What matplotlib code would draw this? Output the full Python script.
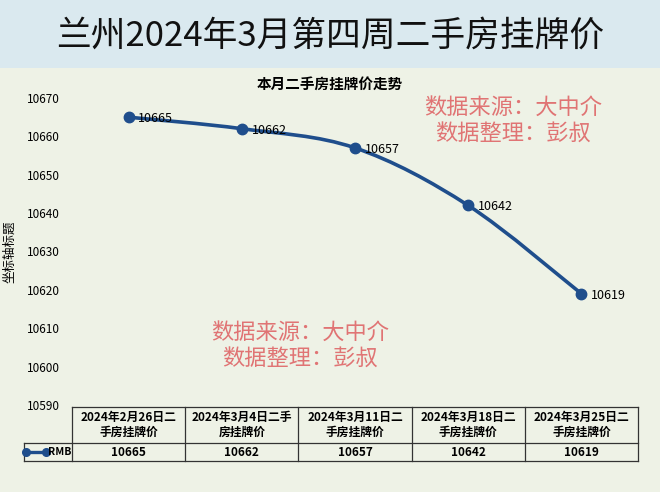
import matplotlib.pyplot as plt
import numpy as np
from matplotlib.path import Path
from matplotlib.patches import PathPatch, Rectangle
from matplotlib.lines import Line2D

plt.rcParams['font.family'] = ['Noto Sans CJK SC', 'DejaVu Sans']

# data
dates = ["2024年2月26日二\n手房挂牌价", "2024年3月4日二手\n房挂牌价", "2024年3月11日二\n手房挂牌价",
         "2024年3月18日二\n手房挂牌价", "2024年3月25日二\n手房挂牌价"]
prices = [10665, 10662, 10657, 10642, 10619]
series_name = "RMB"
yticks = [10590, 10600, 10610, 10620, 10630, 10640, 10650, 10660, 10670]

title = "兰州2024年3月第四周二手房挂牌价"
chart_title = "本月二手房挂牌价走势"
watermark = "数据来源：大中介\n数据整理：彭叔"

bg = "#eef2e6"
line_color = "#1f4e8c"

fig = plt.figure(figsize=(6.6, 4.92), dpi=100, facecolor=bg)

# title bar
fig.patches.append(Rectangle((0, 1 - 68 / 492), 1, 68 / 492, transform=fig.transFigure,
                             facecolor="#dae9ef", edgecolor="none", zorder=0))
fig.text(0.5, 1 - 36 / 492, title, ha='center', va='center', fontsize=25, color="#111111")

ax = fig.add_axes([72 / 660, 87 / 492, 566 / 660, 307 / 492])
ax.set_facecolor(bg)
x = np.arange(len(prices))
ax.set_xlim(-0.5, len(prices) - 0.5)
ax.set_ylim(10590, 10670)
ax.set_yticks(yticks)
ax.set_yticklabels([str(v) for v in yticks], fontsize=8.5)
ax.tick_params(axis='y', length=0, pad=9)
ax.set_xticks([])
for s in ax.spines.values():
    s.set_visible(False)

# smooth line (Catmull-Rom -> bezier, in data coords)
pts = np.column_stack([x, prices]).astype(float)
n = len(pts)
verts = [pts[0]]
codes = [Path.MOVETO]
for i in range(n - 1):
    p_prev = pts[i - 1] if i > 0 else pts[i]
    p_next2 = pts[i + 2] if i + 2 < n else pts[i + 1]
    c1 = pts[i] + (pts[i + 1] - p_prev) / 6
    c2 = pts[i + 1] - (p_next2 - pts[i]) / 6
    verts += [c1, c2, pts[i + 1]]
    codes += [Path.CURVE4] * 3
ax.add_patch(PathPatch(Path(verts, codes), facecolor='none', edgecolor=line_color, lw=2.6,
                       zorder=3, capstyle='round'))
ax.plot(x, prices, 'o', color=line_color, ms=7.5, zorder=4, clip_on=False)
for xi, yi in zip(x, prices):
    ax.annotate(str(yi), (xi, yi), xytext=(7, -1), textcoords='offset points',
                ha='left', va='center', fontsize=9, zorder=5)

fig.text(0.5, 1 - 84 / 492, chart_title, ha='center', va='center', fontsize=10.5, fontweight='bold')
fig.text(10 / 660, 1 - 252 / 492, "坐标轴标题", rotation=90, ha='center', va='center', fontsize=9)

# watermarks
wm_color = "#e07474"
fig.text(513 / 660, 1 - 121 / 492, watermark, ha='center', va='center', fontsize=16,
         color=wm_color, linespacing=1.2)
fig.text(300 / 660, 1 - 346 / 492, watermark, ha='center', va='center', fontsize=16,
         color=wm_color, linespacing=1.2)

# data table below the axes (figure pixel coords converted)
def fx(px):
    return px / 660

def fy(py):
    return 1 - py / 492

col_w = 566 / len(dates)
left = 72
top, mid, bot = 407, 443, 461
lab_left = 24
lc = "#333333"
lw = 0.9
fig.add_artist(Line2D([fx(left), fx(left + 566)], [fy(top), fy(top)], color=lc, lw=lw))
fig.add_artist(Line2D([fx(lab_left), fx(left + 566)], [fy(mid), fy(mid)], color=lc, lw=lw))
fig.add_artist(Line2D([fx(lab_left), fx(left + 566)], [fy(bot), fy(bot)], color=lc, lw=lw))
fig.add_artist(Line2D([fx(lab_left), fx(lab_left)], [fy(mid), fy(bot)], color=lc, lw=lw))
for i in range(len(dates) + 1):
    xx = left + i * col_w
    fig.add_artist(Line2D([fx(xx), fx(xx)], [fy(top), fy(bot)], color=lc, lw=lw))
for i, (d, p) in enumerate(zip(dates, prices)):
    cx = left + (i + 0.5) * col_w
    fig.text(fx(cx), fy((top + mid) / 2), d, ha='center', va='center', fontsize=8.5,
             fontweight='bold', linespacing=1.15)
    fig.text(fx(cx), fy((mid + bot) / 2), str(p), ha='center', va='center', fontsize=8.5,
             fontweight='bold')

# legend key in the row label cell
fig.add_artist(Line2D([fx(26), fx(46)], [fy(452), fy(452)], color=line_color, lw=2.4,
                      marker='o', ms=5.5, markevery=[0, 1]))
fig.text(fx(71), fy(452), series_name, ha='right', va='center', fontsize=7.5, fontweight='bold')

fig.savefig("out.png", dpi=100, facecolor=bg)
